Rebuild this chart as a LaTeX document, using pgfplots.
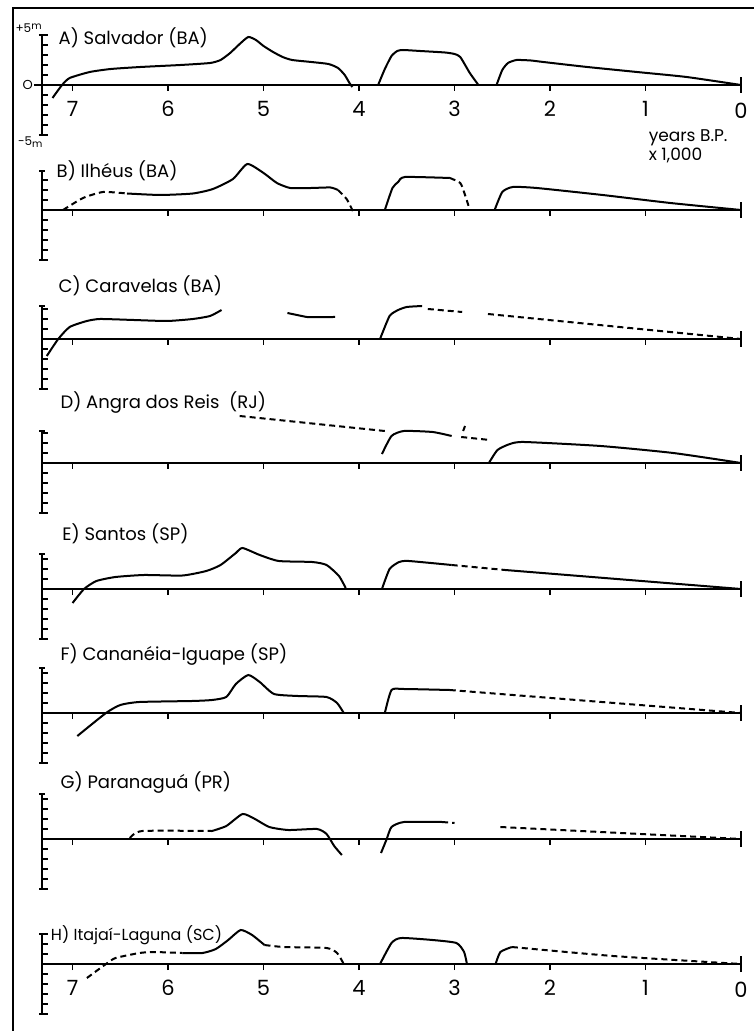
\documentclass[border=0pt]{standalone}
\usepackage{pgfplots}
\pgfplotsset{compat=1.18}
\usepackage{fontspec}
\setmainfont{Poppins}
\pgfplotsset{
  panel/.style={
    scale only axis, width=349.5pt, height=#1,
    xmin=-7.32, xmax=0, ymin=-5,
    axis x line=middle, axis y line=left,
    axis line style={-, line width=0.6pt},
    every inner x axis line/.append style={-},
    every outer y axis line/.append style={-},
    xtick={-7,-6,-5,-4,-3,-2,-1}, xticklabels={},
    ytick={-5,-4,-3,-2,-1,0,1,2,3,4,5}, yticklabels={},
    xtick align=outside, ytick align=inside,
    major tick length=3pt,
    tick style={line width=0.6pt, black},
    extra x ticks={0}, extra x tick labels={},
    extra x tick style={tick align=center, major tick length=8pt},
    extra y tick labels={}, extra y tick style={tick align=center, major tick length=3pt},
    clip=false, anchor=south west,
    /pgf/number format/assume math mode=true,
    tick label style={font=\fontsize{10.5}{11}\selectfont},
  },
  cv/.style={line width=1pt, black, smooth, tension=0.35, no markers},
  dv/.style={line width=1pt, black, smooth, tension=0.35, no markers, dash pattern=on 3pt off 2pt},
}
\tikzset{lab/.style={anchor=west, inner sep=0pt, font=\fontsize{9}{10}\selectfont}}
\begin{document}
\begin{tikzpicture}
\useasboundingbox (0,0) rectangle (377pt,-515.5pt);
\draw[line width=0.6pt] (6.5pt,-515.5pt) -- (6.5pt,-4pt) -- (377pt,-4pt);

% A) Salvador
\begin{axis}[panel=50pt, at={(21pt,-67.5pt)}, ymax=5,
  extra y ticks={-5,5},
  xticklabels={7,6,5,4,3,2,1}, extra x tick labels={0},
  x tick label style={yshift=-1.5pt}]
\addplot[cv] coordinates {(-7.21,-1.3) (-7.11,0) (-7.03,0.7) (-6.82,1.3) (-6.6,1.6) (-6.29,1.8) (-5.87,2.0) (-5.56,2.2) (-5.45,2.5) (-5.35,3.2) (-5.25,4.1) (-5.16,4.8) (-5.08,4.5) (-5.0,3.9) (-4.9,3.3) (-4.8,2.8) (-4.7,2.5) (-4.5,2.3) (-4.32,2.1) (-4.22,1.7) (-4.15,1.0) (-4.1,0.2) (-4.07,-0.2)};
\addplot[cv] coordinates {(-3.80,0) (-3.73,1.6) (-3.66,2.9) (-3.60,3.4) (-3.54,3.5) (-3.36,3.4) (-3.1,3.25) (-3.0,3.1) (-2.94,2.8) (-2.84,1.2) (-2.75,0)};
\addplot[cv] coordinates {(-2.56,0) (-2.50,1.5) (-2.44,2.2) (-2.35,2.5) (-2.2,2.45) (-2.07,2.3) (-1.61,1.8) (-1.09,1.3) (-0.57,0.8) (0,0)};
\node[lab] at (axis cs:-7.15,4.7) {A) Salvador (BA)};
\node[anchor=south east, inner sep=0.5pt, font=\fontsize{6}{7}\selectfont] at (axis cs:-7.31,5.15) {+5\raisebox{0.4ex}{\fontsize{5}{6}\selectfont m}};
\node[anchor=north east, inner sep=0.5pt, font=\fontsize{6}{7}\selectfont] at (axis cs:-7.30,-5.05) {-5\raisebox{-0.3ex}{\fontsize{5}{6}\selectfont m}};
\draw[line width=0.6pt] (axis cs:-7.32,0) -- (axis cs:-7.40,0);
\node[anchor=east, inner sep=0.5pt, font=\fontsize{6.5}{7}\selectfont] at (axis cs:-7.40,0) {O};
\node[anchor=north west, inner sep=0pt, align=left, font=\fontsize{8.5}{9.5}\selectfont] at (axis cs:-0.97,-4.4) {years B.P.\\x 1,000};
\end{axis}

% B) Ilheus
\begin{axis}[panel=44.5pt, at={(21pt,-130pt)}, ymax=3.9, extra y ticks={-5,3.9}]
\addplot[dv] coordinates {(-7.10,0) (-6.89,1.2) (-6.68,1.8) (-6.43,1.65)};
\addplot[cv] coordinates {(-6.43,1.65) (-6.08,1.5) (-5.74,1.65) (-5.53,2.1) (-5.32,3.1) (-5.17,4.6) (-5.0,3.7) (-4.86,2.7) (-4.72,2.2) (-4.5,2.2) (-4.3,2.25) (-4.22,2.0)};
\addplot[dv] coordinates {(-4.22,2.0) (-4.13,1.1) (-4.06,-0.2)};
\addplot[cv] coordinates {(-3.73,0) (-3.65,2.2) (-3.59,2.8) (-3.52,3.3) (-3.05,3.2)};
\addplot[dv] coordinates {(-3.05,3.2) (-2.94,2.7) (-2.89,1.5) (-2.84,0)};
\addplot[cv] coordinates {(-2.58,0) (-2.50,1.8) (-2.39,2.3) (-2.14,2.2) (-1.45,1.5) (-0.74,0.7) (0,0)};
\node[lab] at (axis cs:-7.17,3.9) {B) Ilhéus (BA)};
\end{axis}

% C) Caravelas
\begin{axis}[panel=41.5pt, at={(21pt,-194.5pt)}, ymax=3.3, extra y ticks={-5,3.3}]
\addplot[cv] coordinates {(-7.27,-1.7) (-7.15,0) (-7.03,1.2) (-6.85,1.8) (-6.71,2.0) (-6.36,1.9) (-6.01,1.8) (-5.74,2.0) (-5.56,2.3) (-5.44,2.9)};
\addplot[cv] coordinates {(-4.75,2.6) (-4.6,2.3) (-4.55,2.2) (-4.25,2.2)};
\addplot[cv] coordinates {(-3.78,0) (-3.68,2.3) (-3.59,2.9) (-3.50,3.2) (-3.34,3.3)};
\addplot[dv] coordinates {(-3.28,3.0) (-2.92,2.7)};
\addplot[dv] coordinates {(-2.65,2.5) (0,0)};
\node[lab] at (axis cs:-7.15,5.3) {C) Caravelas (BA)};
\end{axis}

% D) Angra dos Reis
\begin{axis}[panel=41pt, at={(21pt,-256.5pt)}, ymax=3.2, extra y ticks={-5,3.2}]
\addplot[dv] coordinates {(-5.25,4.7) (-3.73,3.2)};
\addplot[cv] coordinates {(-3.76,0.9) (-3.66,2.7) (-3.53,3.2) (-3.23,3.1) (-3.03,2.7)};
\addplot[cv] coordinates {(-2.91,3.2) (-2.89,3.7)};
\addplot[dv] coordinates {(-2.93,2.6) (-2.63,2.3)};
\addplot[cv] coordinates {(-2.64,0) (-2.55,1.3) (-2.42,1.9) (-2.27,2.1) (-1.47,1.7) (-0.71,1.0) (0,0)};
\node[lab] at (axis cs:-7.13,6.0) {D) Angra dos Reis\ \ (RJ)};
\end{axis}

% E) Santos
\begin{axis}[panel=42.5pt, at={(21pt,-319.5pt)}, ymax=3.5, extra y ticks={-5,3.5}]
\addplot[cv] coordinates {(-7.0,-1.4) (-6.88,0) (-6.75,0.8) (-6.55,1.2) (-6.25,1.4) (-5.85,1.35) (-5.6,1.8) (-5.45,2.4) (-5.29,3.6) (-5.22,4.1) (-5.04,3.4) (-4.84,2.8) (-4.49,2.7) (-4.34,2.4) (-4.21,1.3) (-4.14,0.1)};
\addplot[cv] coordinates {(-3.76,0) (-3.68,2.0) (-3.58,2.7) (-3.48,2.8) (-3.03,2.4)};
\addplot[dv] coordinates {(-3.03,2.4) (-2.47,1.9)};
\addplot[cv] coordinates {(-2.47,1.9) (0,0)};
\node[lab] at (axis cs:-7.11,5.5) {E) Santos (SP)};
\end{axis}

% F) Cananeia-Iguape
\begin{axis}[panel=47.5pt, at={(21pt,-381.5pt)}, ymax=4.5, extra y ticks={-5,4.5}]
\addplot[cv] coordinates {(-6.95,-2.3) (-6.65,0) (-6.5,0.8) (-6.3,1.1) (-5.75,1.2) (-5.54,1.3) (-5.39,1.6) (-5.29,2.9) (-5.16,3.8) (-5.04,3.1) (-4.89,1.9) (-4.64,1.7) (-4.34,1.6) (-4.23,1.0) (-4.16,0)};
\addplot[cv] coordinates {(-3.73,0) (-3.66,2.3) (-3.53,2.4) (-3.05,2.3)};
\addplot[dv] coordinates {(-3.05,2.3) (0,0)};
\node[lab] at (axis cs:-7.13,5.8) {F) Cananéia-Iguape (SP)};
\end{axis}

% G) Paranagua
\begin{axis}[panel=47.5pt, at={(21pt,-444.5pt)}, ymax=4.5, extra y ticks={-5,4.5}]
\addplot[dv] coordinates {(-6.40,0.1) (-6.27,0.8) (-5.54,0.8)};
\addplot[cv] coordinates {(-5.54,0.8) (-5.39,1.3) (-5.22,2.5) (-5.09,2.0) (-4.94,1.2) (-4.74,0.9) (-4.44,1.0) (-4.34,0.5) (-4.26,-0.7) (-4.18,-1.6)};
\addplot[cv] coordinates {(-3.77,-1.4) (-3.71,0) (-3.66,1.2) (-3.53,1.7) (-3.13,1.7)};
\addplot[dv] coordinates {(-3.13,1.7) (-3.0,1.6)};
\addplot[dv] coordinates {(-2.52,1.2) (0,0)};
\node[lab] at (axis cs:-7.13,5.6) {G) Paranaguá (PR)};
\end{axis}

% H) Itajai-Laguna
\begin{axis}[panel=40pt, at={(21pt,-507pt)}, ymax=3, extra y ticks={-5,3},
  xticklabels={7,6,5,4,3,2,1}, extra x tick labels={0},
  x tick label style={yshift=-1.5pt}]
\addplot[dv] coordinates {(-6.85,-1.4) (-6.65,0) (-6.55,0.6) (-6.3,1.1) (-6.15,1.2) (-5.85,1.1)};
\addplot[cv] coordinates {(-5.85,1.1) (-5.64,1.1) (-5.5,1.5) (-5.37,2.4) (-5.24,3.4) (-5.12,2.9) (-4.99,1.9)};
\addplot[dv] coordinates {(-4.99,1.9) (-4.79,1.7) (-4.34,1.6) (-4.23,1.1) (-4.16,0)};
\addplot[cv] coordinates {(-3.78,0) (-3.66,2.1) (-3.56,2.6) (-3.23,2.4) (-2.98,2.1) (-2.90,1.2) (-2.87,0)};
\addplot[cv] coordinates {(-2.57,0) (-2.52,1.2) (-2.40,1.7)};
\addplot[dv] coordinates {(-2.40,1.7) (-1.34,0.8) (0,0)};
\node[lab, font=\fontsize{8}{9}\selectfont] at (axis cs:-7.23,2.9) {H) Itajaí-Laguna (SC)};
\end{axis}
\end{tikzpicture}
\end{document}
